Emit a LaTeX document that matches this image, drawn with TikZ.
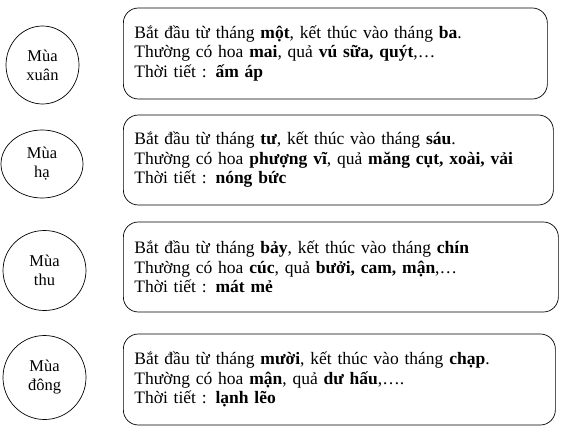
\documentclass[tikz,border=0pt]{standalone}
\usepackage{fontspec}
\setmainfont{Liberation Serif}
\usepackage{tikz}
\usetikzlibrary{shapes.geometric}

\tikzset{
	season/.style={draw, ellipse, line width=0.7pt, inner sep=0pt, align=center,
		font=\fontsize{16.5}{19}\selectfont},
	info/.style={draw, rectangle, rounded corners=15pt, line width=0.7pt, anchor=west,
		inner xsep=11pt, align=left, minimum height=90pt,
		font=\fontsize{17.5}{19.5}\selectfont}
}

\begin{document}
\begin{tikzpicture}[x=1pt, y=-1pt]
	\useasboundingbox (0,0) rectangle (562,431);
	\node[season, minimum width=73pt, minimum height=78pt] (xuan) at (42.5,65) {Mùa\\xuân};
	\node[season, minimum width=82pt, minimum height=68pt] (ha) at (42,164) {Mùa\\hạ};
	\node[season, minimum width=83pt, minimum height=80pt] (thu) at (44.5,270.5) {Mùa\\thu};
	\node[season, minimum width=83pt, minimum height=84pt] (dong) at (44.5,377.5) {Mùa\\đông};
	
	\node[info, text width=402pt, minimum height=91pt] (xuanInfo) at (123,53.5)
	{Bắt đầu từ tháng \textbf{một}, kết thúc vào tháng \textbf{ba}.\\
	 Thường có hoa \textbf{mai}, quả \textbf{vú sữa, quýt},…\\
	 Thời tiết : \textbf{ấm áp}};
	\node[info, text width=408pt] (haInfo) at (123,160)
	{Bắt đầu từ tháng \textbf{tư}, kết thúc vào tháng \textbf{sáu}.\\
	 Thường có hoa \textbf{phượng vĩ}, quả \textbf{măng cụt, xoài, vải}\\
	 Thời tiết : \textbf{nóng bức}};
	\node[info, text width=413pt] (thuInfo) at (123,267)
	{Bắt đầu từ tháng \textbf{bảy}, kết thúc vào tháng \textbf{chín}\\
	 Thường có hoa \textbf{cúc}, quả \textbf{bưởi, cam, mận},…\\
	 Thời tiết : \textbf{mát mẻ}};
	\node[info, text width=410pt, minimum height=91pt] (dongInfo) at (123,379.5)
	{Bắt đầu từ tháng \textbf{mười}, kết thúc vào tháng \textbf{chạp}.\\
	 Thường có hoa \textbf{mận}, quả \textbf{dư hấu},….\\
	 Thời tiết : \textbf{lạnh lẽo}};
\end{tikzpicture}
\end{document}
